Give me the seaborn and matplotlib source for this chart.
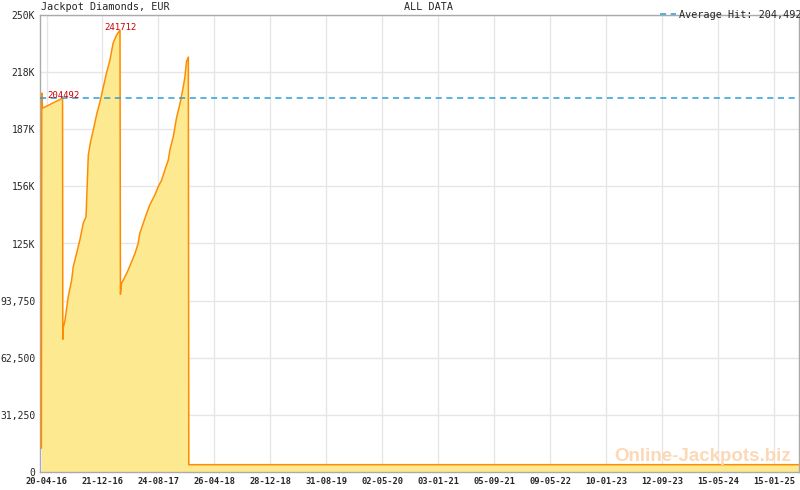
import pandas as pd
import matplotlib
matplotlib.use("Agg")
import matplotlib.pyplot as plt
import matplotlib.dates as mdates
import seaborn as sns
import numpy as np

### DATA ###

# Jackpot size over time
dates = ["2016-03-28", "2016-03-30", "2016-04-02", "2016-06-29",
         "2016-06-30", "2016-07-02", "2016-07-10", "2016-07-24", "2016-08-08", "2016-08-15",
         "2016-08-30", "2016-09-13", "2016-09-28", "2016-10-10", "2016-10-15", "2016-10-20",
         "2016-10-30", "2016-11-11", "2016-11-26", "2016-12-10", "2016-12-25", "2017-01-08",
         "2017-01-23", "2017-02-06", "2017-02-21", "2017-03-08",
         "2017-03-10", "2017-03-15", "2017-03-30", "2017-04-13", "2017-04-28", "2017-05-13",
         "2017-05-27", "2017-06-03", "2017-06-18", "2017-07-03", "2017-07-17", "2017-08-08",
         "2017-08-23", "2017-09-07", "2017-09-21", "2017-10-06", "2017-10-13", "2017-10-28",
         "2017-11-11", "2017-11-26", "2017-12-10", "2017-12-18", "2017-12-25", "2018-01-02",
         "2018-01-04", "2025-05-05"]
values = [13000, 207300, 199000, 204492,
          72600, 78800, 83150, 95900, 105000, 112300,
          119800, 126900, 136200, 139600, 156100, 173400,
          180700, 187100, 195800, 202400, 210600, 218300,
          225400, 234700, 239000, 241712,
          97200, 103200, 106800, 110500, 115000, 119600,
          125100, 130600, 136000, 141500, 146100, 151500,
          156100, 159700, 165200, 170700, 176100, 183400,
          193600, 201300, 210100, 216100, 224500, 227000,
          4000, 4000]

# Labelled hits
hit_dates = ["2016-03-30", "2017-03-08"]
hit_values = [204492, 241712]
average_hit = 204492

# Axis ticks
x_tick_labels = ["20-04-16", "21-12-16", "24-08-17", "26-04-18", "28-12-18", "31-08-19",
                 "02-05-20", "03-01-21", "05-09-21", "09-05-22", "10-01-23", "12-09-23",
                 "15-05-24", "15-01-25"]
y_ticks = [0, 31250, 62500, 93750, 125000, 156250, 187500, 218750, 250000]
y_tick_labels = ["0", "31,250", "62,500", "93,750", "125K", "156K", "187K", "218K", "250K"]

df = pd.DataFrame({"date": pd.to_datetime(dates), "value": values})

### PLOT ###

sns.set_style("white")
plt.rcParams['font.family'] = ['DejaVu Sans Mono', 'DejaVu Sans']

fig = plt.figure(figsize=(8, 4.9), dpi=100)
ax = fig.add_axes([40 / 800, 18 / 490, 759 / 800, 457 / 490])

line_col = "#ff8c00"
fill_col = "#fde98f"

ax.fill_between(df["date"], df["value"], 0, color=fill_col, linewidth=0, zorder=2)
sns.lineplot(data=df, x="date", y="value", color=line_col, linewidth=1.1, ax=ax, zorder=3)

# average hit line
avg = ax.axhline(average_hit, color="#2a9fd6", linestyle=(0, (4, 3)), linewidth=1.1, zorder=4,
                 label="Average Hit: 204,492")

# hit labels: first one sits to the right of the opening spike, the peak one is centred
ax.annotate(str(hit_values[0]), (pd.to_datetime(hit_dates[0]), hit_values[0]),
            xytext=(4, -1), textcoords="offset points", ha="left", va="bottom",
            color="#cc0000", fontsize=6.5, zorder=5)
ax.annotate(str(hit_values[1]), (pd.to_datetime(hit_dates[1]), hit_values[1]),
            xytext=(0, -1), textcoords="offset points", ha="center", va="bottom",
            color="#cc0000", fontsize=6.5, zorder=5)

# axes limits
ax.set_xlim(pd.to_datetime("2016-03-22"), pd.to_datetime("2025-05-05"))
ax.set_ylim(0, 250000)

# x ticks: major at label dates, 7 minor steps between
major = mdates.date2num(pd.to_datetime(x_tick_labels, format="%d-%m-%y"))
step = (major[1] - major[0]) / 7
minor = np.arange(major[0], mdates.date2num(pd.to_datetime("2025-05-05")), step)
ax.set_xticks(major)
ax.set_xticklabels(x_tick_labels, fontsize=6.3, fontweight="bold")
ax.set_xticks(minor, minor=True)
ax.tick_params(axis="x", which="major", direction="in", length=5, color="#aaaaaa", pad=3.5)
ax.tick_params(axis="x", which="minor", direction="in", length=3, color="#aaaaaa")

ax.set_yticks(y_ticks)
ax.set_yticklabels(y_tick_labels, fontsize=7)
ax.tick_params(axis="y", direction="out", length=3, color="#aaaaaa", pad=0.5)

ax.grid(True, which="major", color="#e6e6e6", linewidth=1, zorder=0)
ax.set_axisbelow(True)
for s in ax.spines.values():
    s.set_color("#aaaaaa")
    s.set_linewidth(1)
ax.set_xlabel("")
ax.set_ylabel("")

# titles
fig.text(41 / 800, 1 - 7 / 490, "Jackpot Diamonds, EUR", fontsize=7.3, va="center", ha="left")
fig.text(428 / 800, 1 - 7 / 490, "ALL DATA", fontsize=7.3, va="center", ha="center")
leg = ax.legend(handles=[avg], loc="lower right", bbox_to_anchor=(1.003, 0.99), frameon=False,
                fontsize=7.3, handlelength=1.6, handletextpad=0.3, borderpad=0, borderaxespad=0)

# watermark
ax.text(0.99, 0.034, "Online-Jackpots.biz", transform=ax.transAxes, ha="right", va="center",
        fontsize=13.5, fontweight="bold", family="Liberation Sans", color="#fdd8b6", zorder=6)

plt.savefig("out.png", dpi=100)
